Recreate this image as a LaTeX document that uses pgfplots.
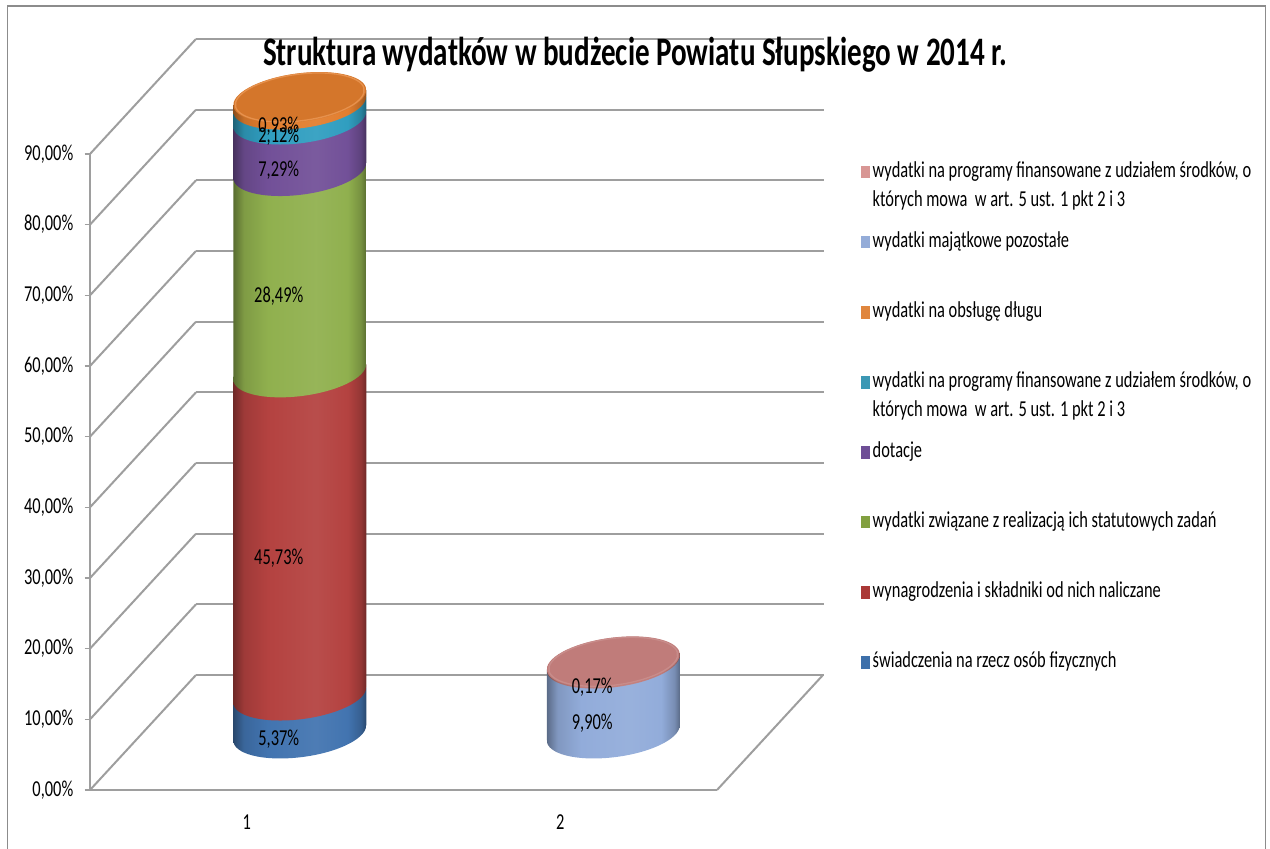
\documentclass[border=0pt]{standalone}
\usepackage{pgfplots}
\usepackage{pgfplotstable}
\pgfplotsset{compat=1.18}
\usepackage{fontspec}
\setmainfont[FakeStretch=0.72]{Carlito}

\definecolor{gridc}{RGB}{158,158,158}
\definecolor{frame}{RGB}{140,140,140}
\definecolor{cblue}{RGB}{66,116,176}
\definecolor{cred}{RGB}{180,66,64}
\definecolor{cgreen}{RGB}{144,176,78}
\definecolor{cpurple}{RGB}{114,80,152}
\definecolor{cteal}{RGB}{48,158,192}
\definecolor{corange}{RGB}{226,126,46}
\definecolor{clight}{RGB}{146,172,218}
\definecolor{cpink}{RGB}{192,124,122}
\definecolor{lblue}{RGB}{62,112,170}
\definecolor{lred}{RGB}{170,56,54}
\definecolor{lgreen}{RGB}{130,160,64}
\definecolor{lpurple}{RGB}{110,78,150}
\definecolor{lteal}{RGB}{60,152,180}
\definecolor{lorange}{RGB}{224,134,62}
\definecolor{llight}{RGB}{148,172,216}
\definecolor{lpink}{RGB}{216,150,148}

\newcommand\defcyl[2]{\pgfdeclarehorizontalshading{#1}{100bp}{color(0bp)=(#2!62!black); color(25bp)=(#2!62!black); color(29bp)=(#2!88!black); color(38bp)=(#2); color(56bp)=(#2!94!white); color(68bp)=(#2); color(73bp)=(#2!82!black); color(75bp)=(#2!62!black); color(100bp)=(#2!62!black)}}
\defcyl{sblue}{cblue}
\defcyl{sred}{cred}
\defcyl{sgreen}{cgreen}
\defcyl{spurple}{cpurple}
\defcyl{steal}{cteal}
\defcyl{sorange}{corange}
\defcyl{slight}{clight}
\defcyl{spink}{cpink}

% one segment of a cylinder: x, bottom, top, shading
\newcommand\segm[4]{%
  \begin{scope}[shift={(axis cs:#1,#2)}]
    \clip[cm={47.6,0,14.7,19.1,(0pt,0pt)}] (0pt,0pt) circle[radius=1pt];
    \shade[shading=#4] (-49.875pt,-30pt) rectangle (49.875pt,30pt);
  \end{scope}
  \shade[shading=#4]
    ([shift={(-49.875pt,-5.625pt)}]axis cs:#1,#2) --
    ([shift={(-49.875pt,-5.625pt)}]axis cs:#1,#3) --
    ([shift={(49.875pt,5.625pt)}]axis cs:#1,#3) --
    ([shift={(49.875pt,5.625pt)}]axis cs:#1,#2) -- cycle;
}
% cap: x, y, fill, rim
\newcommand\capp[4]{%
  \begin{scope}[shift={(axis cs:#1,#2)}]
    \fill[#3,cm={47.6,0,14.7,19.1,(0pt,0pt)}] (0pt,0pt) circle[radius=1pt];
    \draw[#4,line width=1pt,cm={46.2,0,14.2,18.4,(0pt,0pt)}] (0pt,0pt) circle[radius=1pt];
  \end{scope}
}

\pgfplotstableread{
x   blue  red    green  purple teal  orange light pink
1   5.37  45.73  28.49  7.29   2.12  0.93   0     0
2   0     0      0      0      0     0      9.90  0.17
}\budzet

\pgfplotstableread{
x  mid      val
1  2.685    5.37
1  28.235   45.73
1  65.345   28.49
1  83.235   7.29
1  87.94    2.12
1  89.465   0.93
2  4.95     9.90
2  9.985    0.17
}\etykiety

\newcommand\lab{\fontsize{17.1}{20}\selectfont}
\pgfplotsset{
  common/.style={scale only axis, width=470.25pt, height=477pt,
    xmin=0.5, xmax=2.5, ymin=0, ymax=90, clip=false},
  seg/.style={draw=none, fill=#1,
    legend image code/.code={\fill[##1] (0pt,-4.75pt) rectangle (7pt,4.75pt); \path (8.8pt,0pt);}},
  side/.style={gridc, line width=1.5pt, no markers, forget plot},
}

\begin{document}
\begin{tikzpicture}
\path[use as bounding box] (0pt,0pt) rectangle (952.5pt,636.75pt);
\draw[frame,line width=1pt] (5.625pt,-1pt) -- (5.625pt,632.25pt) -- (949.1pt,632.25pt) -- (949.1pt,-1pt);

% back wall
\begin{axis}[common, at={(147pt,130.5pt)}, anchor=south west, width=471pt,
  axis line style={draw=none}, major tick length=0pt,
  xtick=\empty, ytick={0,10,...,90}, yticklabels={},
  ymajorgrids, y grid style={gridc,line width=1.5pt}]
\end{axis}

% front plane: axes, ticks, side wall and floor lines
\begin{axis}[common, at={(67.5pt,44.25pt)}, anchor=south west,
  axis x line=bottom, axis y line=left,
  axis line style={gridc,line width=1.2pt,-},
  tick style={gridc,line width=1pt}, tick align=outside, major tick length=4pt,
  xtick={1,2}, xticklabels={1,2}, x tick style={draw=none},
  extra x ticks={0.5,1.5,2.5}, extra x tick labels={},
  extra x tick style={tick style={gridc,line width=1pt}},
  ytick={0,10,...,90},
  yticklabel={\pgfmathprintnumber[fixed,fixed zerofill,precision=2,use comma,assume math mode=true]{\tick}\%},
  tick label style={font=\lab},
  yticklabel style={xshift=-5pt},
  xticklabel style={yshift=-11pt},
  ]
\addplot[side] coordinates {(0.5,0) (0.838,16.27)};
\addplot[side] coordinates {(0.5,10) (0.838,26.27)};
\addplot[side] coordinates {(0.5,20) (0.838,36.27)};
\addplot[side] coordinates {(0.5,30) (0.838,46.27)};
\addplot[side] coordinates {(0.5,40) (0.838,56.27)};
\addplot[side] coordinates {(0.5,50) (0.838,66.27)};
\addplot[side] coordinates {(0.5,60) (0.838,76.27)};
\addplot[side] coordinates {(0.5,70) (0.838,86.27)};
\addplot[side] coordinates {(0.5,80) (0.838,96.27)};
\addplot[side] coordinates {(0.5,90) (0.838,106.27)};
\addplot[side] coordinates {(2.5,0) (2.838,16.27)};
\end{axis}

% stacked bars and legend
\begin{axis}[common, at={(107.25pt,87pt)}, anchor=south west, hide axis,
  ybar stacked, bar width=84pt,
  reverse legend,
  legend cell align=left,
  legend style={draw=none, fill=none, font=\lab,
    at={(1.1446,0.899)}, anchor=north west,
    row sep=36.5pt, inner sep=0pt,
    nodes={inner sep=0pt, text height=12pt, text depth=4pt}},
  ]
\addplot[seg=lblue] table[x=x,y=blue] {\budzet};
\addlegendentry{świadczenia na rzecz osób fizycznych}
\addplot[seg=lred] table[x=x,y=red] {\budzet};
\addlegendentry{wynagrodzenia i składniki od nich naliczane}
\addplot[seg=lgreen] table[x=x,y=green] {\budzet};
\addlegendentry{wydatki związane z realizacją ich statutowych zadań}
\addplot[seg=lpurple] table[x=x,y=purple] {\budzet};
\addlegendentry{dotacje}
\addplot[seg=lteal] table[x=x,y=teal] {\budzet};
\addlegendentry{\smash{\parbox[t]{300pt}{\baselineskip=21.75pt wydatki na programy finansowane z udziałem środków, o\\których mowa\ \ w art. 5 ust. 1 pkt 2 i 3}}}
\addplot[seg=lorange] table[x=x,y=orange] {\budzet};
\addlegendentry{wydatki na obsługę długu}
\addplot[seg=llight] table[x=x,y=light] {\budzet};
\addlegendentry{wydatki majątkowe pozostałe}
\addplot[seg=lpink] table[x=x,y=pink] {\budzet};
\addlegendentry{\smash{\parbox[t]{300pt}{\baselineskip=21.75pt wydatki na programy finansowane z udziałem środków, o\\których mowa\ \ w art. 5 ust. 1 pkt 2 i 3}}}
\end{axis}

% rounded surfaces of the cylinders, data labels
\begin{axis}[common, at={(107.25pt,87pt)}, anchor=south west, hide axis]
\pgfplotsextra{%
  \segm{1}{0}{5.37}{sblue}
  \segm{1}{5.37}{51.10}{sred}
  \segm{1}{51.10}{79.59}{sgreen}
  \segm{1}{79.59}{86.88}{spurple}
  \segm{1}{86.88}{89.00}{steal}
  \segm{1}{89.00}{89.93}{sorange}
  \capp{1}{89.93}{corange!94!black}{corange!85!white}
  \segm{2}{0}{9.90}{slight}
  \segm{2}{9.90}{10.07}{spink}
  \capp{2}{10.07}{cpink}{cpink!88!white}
}
\addplot[draw=none, mark=none, forget plot,
  point meta=explicit,
  nodes near coords={\pgfmathprintnumber[fixed,fixed zerofill,precision=2,use comma,assume math mode=true]{\pgfplotspointmeta}\%},
  every node near coord/.style={font=\lab, anchor=center, inner sep=0pt, xshift=-15.75pt, yshift=-18.75pt},
  ] table[x=x,y=mid,meta=val] {\etykiety};
\end{axis}

\node[font=\fontsize{30.3}{36}\selectfont\bfseries, anchor=center] at (476.25pt,595.5pt)
  {Struktura wydatków w budżecie Powiatu Słupskiego w 2014 r.};
\end{tikzpicture}
\end{document}
